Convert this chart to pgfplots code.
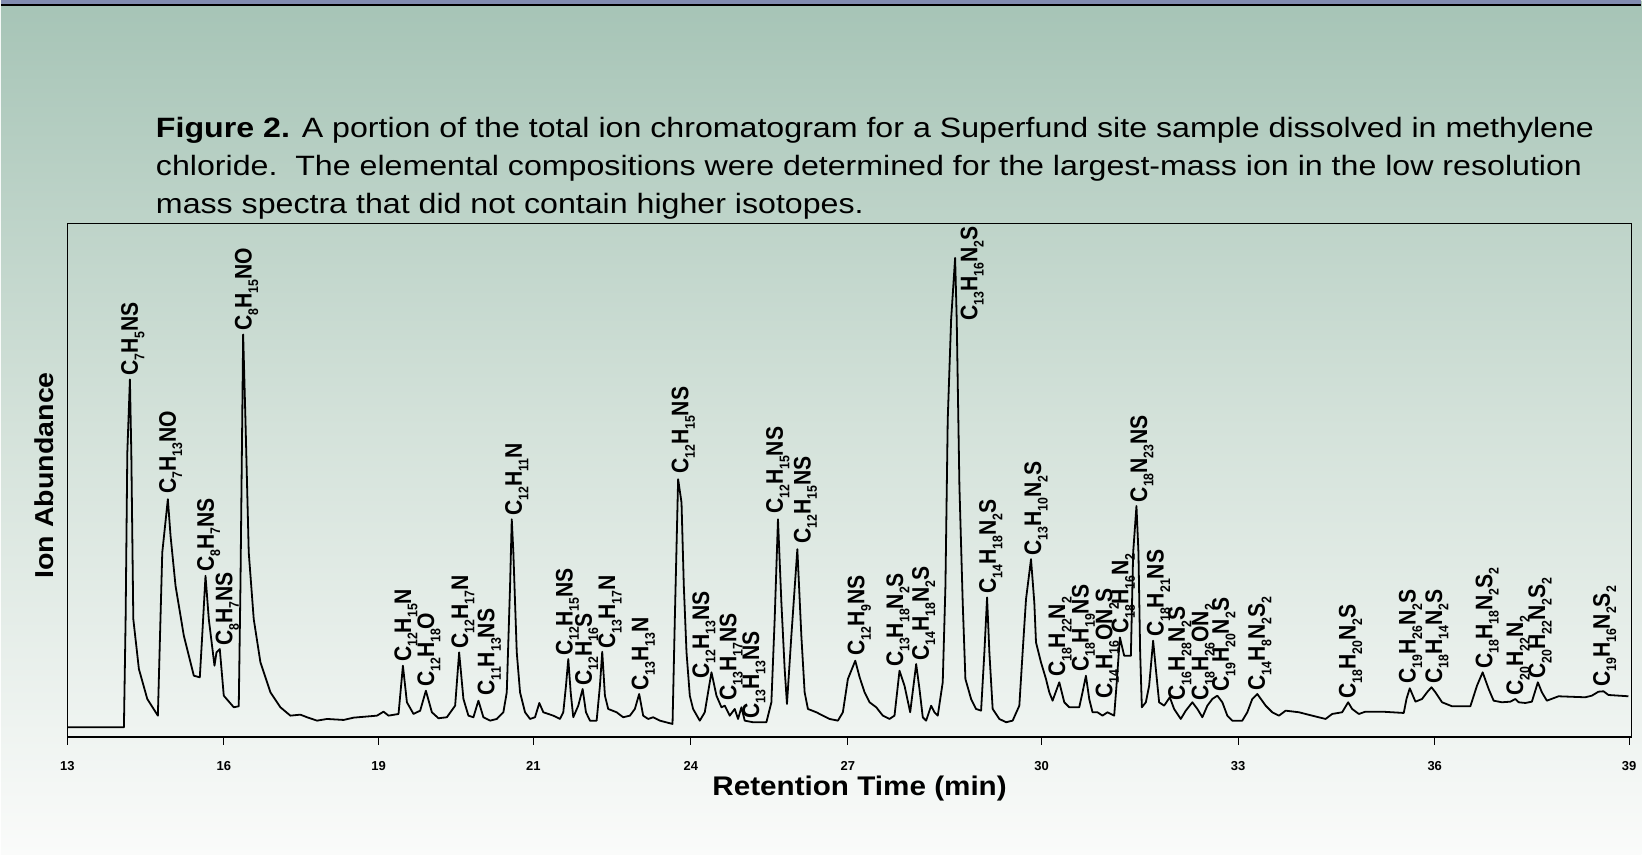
\documentclass[border=0pt]{standalone}
\usepackage{pgfplots}
\pgfplotsset{compat=1.18}
\usepackage{fontspec}
\setmainfont{Liberation Sans}
\usepackage{graphicx}

\definecolor{bgtop}{RGB}{166,196,182}
\definecolor{bgmid}{RGB}{212,226,218}
\definecolor{bgbot}{RGB}{250,251,250}
\definecolor{stripe}{RGB}{130,140,176}

% subscript in the peak labels
\newcommand{\su}[1]{\raisebox{-3.2pt}{\fontsize{7}{7}\selectfont #1}}
% peak label: x (px), height, formula
\newcommand{\pk}[3]{\node[lbl] at (axis cs:#1,#2) {\scalebox{0.88}[1]{#3}};}

\tikzset{lbl/.style={rotate=90, anchor=base west, inner sep=0pt,
    font=\fontsize{12}{12}\selectfont\bfseries}}

\begin{document}
\begin{tikzpicture}
% page: 1 px of the reference = 0.5pt
\shade[top color=bgtop, bottom color=bgbot, middle color=bgmid] (0,0) rectangle (821.5pt,428pt);
\fill[stripe] (0,428pt) rectangle (821.5pt,425.8pt);
\draw[black, line width=0.8pt] (0,425.4pt) -- (821.5pt,425.4pt);

\node[anchor=base west, inner sep=0pt] at (77.5pt,359pt)
  {\scalebox{1.15}[1]{\fontsize{14}{16}\selectfont\textbf{Figure 2.} A portion of the total ion chromatogram for a Superfund site sample dissolved in methylene}};
\node[anchor=base west, inner sep=0pt] at (77.5pt,340pt)
  {\scalebox{1.15}[1]{\fontsize{14}{16}\selectfont chloride.\ \ The elemental compositions were determined for the largest-mass ion in the low resolution}};
\node[anchor=base west, inner sep=0pt] at (77.5pt,321pt)
  {\scalebox{1.15}[1]{\fontsize{14}{16}\selectfont mass spectra that did not contain higher isotopes.}};

\begin{axis}[
    at={(33.35pt,59pt)}, anchor=south west,
    scale only axis, width=783.15pt, height=257pt,
    xmin=66.7, xmax=1633, ymin=-4, ymax=510,
    axis line style={line width=0.8pt},
    xtick={66.7,223.3,378.3,533.3,691,848.3,1042.3,1239,1436,1630.7},
    xticklabels={13,16,19,21,24,27,30,33,36,39},
    xtick pos=bottom, tick align=outside, major tick length=4pt,
    tick style={line width=0.4pt, black},
    ytick=\empty,
    xticklabel style={font=\fontsize{6.5}{6.5}\selectfont\bfseries},
    xticklabel shift=4.5pt,
    clip=false,
  ]
  \addplot[black, line width=0.9pt, line join=round, mark=none] coordinates {
    (66.7,5.7) (123.3,5.7) (125,114) (126.7,280.7) (129.3,354) (130.7,280.7) (132.7,114)
    (138.3,64) (146.7,34) (157.3,17.3) (159,80.7) (161.7,180.7) (167.3,234) (170,197.3)
    (175,147.3) (183.3,97.3) (193.3,57.3) (199.3,55.7) (201.7,97.3) (205,157.3) (208.3,114)
    (214,67.3) (216,80.7) (219.3,84) (223.3,37.3) (233.3,25.7) (238.3,26.7) (240,147.3)
    (242.7,399) (245,314) (248.3,180.7) (253.3,114) (260,70.7) (270,40.7) (280,25.7)
    (290,17.3) (300,18.3) (306.7,15.7) (316.7,12.3) (326.7,14) (343.3,13) (353.3,15.3)
    (376.7,17.3) (383.3,21.3) (388.3,17.3) (398.3,19) (402.7,67.3) (406.7,30.7) (413.3,19)
    (420,22.3) (425.7,42.3) (431.7,20.7) (438.3,14.7) (446.7,15.7) (455,27.3) (459,80.7)
    (463.3,34) (468.3,17.3) (473.3,15.7) (478.3,32.3) (483.3,15.7) (490,12.3) (496.7,14)
    (503.3,20.7) (506.7,40.7) (510,147.3) (511.7,214) (513.3,180.7) (516.7,80.7) (520,40.7)
    (525,20.7) (530,14) (535,15.7) (539.3,30) (543.3,20.7) (553.3,17.3) (560,14) (563.3,20.7)
    (566,47.3) (568.3,74) (570.7,40.7) (573.3,15.7) (578.3,27.3) (582.7,44) (586,20.7)
    (590,12.3) (596.7,12.3) (600,47.3) (602.3,81.3) (605,37.3) (608.3,24) (616.7,20.7)
    (623.3,15.7) (630,17.3) (635,24) (639.3,39) (643.3,17.3) (648.3,14) (653.3,15.7)
    (660,12.3) (672.7,9) (675,114) (678.3,254) (681.7,230.7) (684,147.3) (686.7,80.7)
    (690,37.3) (693.3,24) (700,12.3) (705,20.7) (708.3,40.7) (711.7,60.7) (716.7,37.3)
    (721.7,25.7) (725,27.3) (730,17.3) (735,24) (738.3,14) (741.7,25.7) (745,12.3)
    (753.3,10.7) (766.7,10.7) (771.7,30.7) (775,114) (778.3,214) (781.7,130.7) (785,64)
    (787.3,29) (791.7,97.3) (797.7,184) (801.7,97.3) (805,40.7) (808.3,24) (816.7,20.7)
    (823.3,17.3) (830,14) (838.3,12.3) (843.3,20.7) (848.3,54) (855.7,72.3) (860,56)
    (865,40.7) (870,30.7) (876.7,25.7) (883.3,17.3) (890,14) (895,17.3) (900,62.3)
    (905,47.3) (910.7,20.7) (916.7,69) (920,44) (923.3,15.7) (926.7,12.3) (931.7,27.3)
    (935,20.7) (938.3,17.3) (943.3,50.7) (946,147.3) (948.3,314) (951.7,414) (955.7,475.7)
    (957.3,414) (960,247.3) (963.3,130.7) (966,54) (971.7,34) (976.7,24) (981.7,22.3)
    (985,80.7) (987.7,135.7) (990,80.7) (993.3,24) (1000,14) (1006.7,10.7) (1013.3,12.3)
    (1020,27.3) (1023.3,80.7) (1026.7,134) (1031.7,174) (1035,130.7) (1036.7,90.7)
    (1041.7,70.7) (1046.7,54) (1050,40.7) (1053.3,32.3) (1060,50.7) (1065,30.7) (1070,25.7)
    (1080,25.7) (1083.3,40.7) (1086.7,57.3) (1090,34) (1093.3,20.7) (1098.3,20.7)
    (1103.3,17.3) (1108.3,20.7) (1115,17.3) (1117.3,47.3) (1120.7,95.7) (1125,77.3)
    (1131.7,77.3) (1134,180.7) (1137.3,227.3) (1139.3,180.7) (1141,80.7) (1142.7,25.7)
    (1146.7,30.7) (1150,47.3) (1154,92.3) (1156.7,64) (1160,30.7) (1165,27.3) (1170.7,35.7)
    (1175,24) (1181.7,14) (1186.7,22.3) (1193.3,30.7) (1198.3,24) (1203.3,15.7) (1208.3,27.3)
    (1213.3,34) (1218.3,37.3) (1223.3,30.7) (1228.3,17.3) (1233.3,12.3) (1243.3,12.3)
    (1248.3,20.7) (1253.3,34) (1258.3,39) (1266.7,27.3) (1273.3,20.7) (1280,17.3)
    (1286.7,22.3) (1300,20.7) (1313.3,17.3) (1326.7,14) (1333.3,19) (1343.3,20.7)
    (1349.3,30.7) (1353.3,24) (1360,19) (1366.7,21.3) (1383.3,21.3) (1405,20) (1407.7,34)
    (1411,44.7) (1416.7,31.3) (1423.3,34) (1428.3,40.7) (1432.7,45.7) (1436.7,40.7)
    (1443.3,30.7) (1453.3,26.7) (1471.7,26.7) (1478.3,47.3) (1484,60.7) (1490,44)
    (1495,32.3) (1503.3,30.7) (1511.7,31.3) (1516.7,34) (1520,30.7) (1526.7,30)
    (1533.3,31.3) (1539.3,50.7) (1543.3,40.7) (1548.3,32.3) (1560,36.7) (1586.7,35.7)
    (1593.3,37.3) (1600,41.3) (1605,41.7) (1610,38) (1630,36.7)
  };
  \pk{137.3}{357.3}{C\su{7}H\su{5}NS}
  \pk{175.3}{239}{C\su{7}H\su{13}NO}
  \pk{213.3}{161.3}{C\su{8}H\su{7}NS}
  \pk{231.9}{86.7}{C\su{8}H\su{7}NS}
  \pk{251.3}{402.3}{C\su{8}H\su{15}NO}
  \pk{410.9}{70.7}{C\su{12}H\su{15}N}
  \pk{433.9}{45.7}{C\su{12}H\su{18}O}
  \pk{467.9}{84}{C\su{12}H\su{17}N}
  \pk{494.3}{37.3}{C\su{11}H\su{13}NS}
  \pk{521.9}{217.3}{C\su{12}H\su{11}N}
  \pk{572.6}{77.3}{C\su{12}H\su{15}NS}
  \pk{591.9}{47.3}{C\su{12}H\su{16}S}
  \pk{615.3}{84}{C\su{13}H\su{17}N}
  \pk{648.6}{42.3}{C\su{13}H\su{13}N}
  \pk{688.6}{259}{C\su{12}H\su{15}NS}
  \pk{709.3}{54}{C\su{12}H\su{13}NS}
  \pk{736.6}{32.3}{C\su{13}H\su{17}NS}
  \pk{759.3}{14}{C\su{13}H\su{13}NS}
  \pk{783.3}{219}{C\su{12}H\su{15}NS}
  \pk{810.9}{189}{C\su{12}H\su{15}NS}
  \pk{864.9}{77.3}{C\su{12}H\su{9}NS}
  \pk{903.6}{65.7}{C\su{13}H\su{18}N\su{2}S}
  \pk{929.3}{72.3}{C\su{14}H\su{18}N\su{2}S}
  \pk{977.9}{412.3}{C\su{13}H\su{16}N\su{2}S}
  \pk{996.6}{139}{C\su{14}H\su{18}N\su{2}S}
  \pk{1041.9}{177.3}{C\su{13}H\su{10}N\su{2}S}
  \pk{1065.9}{55.7}{C\su{18}H\su{22}N\su{2}}
  \pk{1089.3}{60.7}{C\su{18}H\su{19}NS}
  \pk{1113.3}{34}{C\su{14}H\su{16}ON\su{2}S}
  \pk{1129.3}{99}{C\su{18}H\su{16}N\su{2}}
  \pk{1147.9}{230.7}{C\su{18}N\su{23}NS}
  \pk{1164.6}{95.7}{C\su{18}H\su{21}NS}
  \pk{1185.9}{32.3}{C\su{16}H\su{28}N\su{2}S}
  \pk{1209.3}{32.3}{C\su{18}H\su{26}ON\su{2}}
  \pk{1229.9}{40.7}{C\su{19}H\su{20}N\su{2}S}
  \pk{1265.9}{42.3}{C\su{14}H\su{8}N\su{2}S\su{2}}
  \pk{1356.9}{34}{C\su{18}H\su{20}N\su{2}S}
  \pk{1416.9}{49}{C\su{19}H\su{26}N\su{2}S}
  \pk{1443.3}{49}{C\su{18}H\su{14}N\su{2}S}
  \pk{1493.6}{64}{C\su{18}H\su{18}N\su{2}S\su{2}}
  \pk{1524.6}{37.3}{C\su{20}H\su{22}N\su{2}}
  \pk{1546.6}{54}{C\su{20}H\su{22}N\su{2}S\su{2}}
  \pk{1611.3}{45.7}{C\su{19}H\su{16}N\su{2}S\su{2}}
\end{axis}

\node[rotate=90, inner sep=0pt] at (21.65pt,190pt)
  {\scalebox{1.1}[1]{\fontsize{13}{13}\selectfont\bfseries Ion Abundance}};
\node[anchor=base, inner sep=0pt] at (430pt,29.5pt)
  {\scalebox{1.1}[1]{\fontsize{13.5}{13.5}\selectfont\bfseries Retention Time (min)}};
\end{tikzpicture}
\end{document}
